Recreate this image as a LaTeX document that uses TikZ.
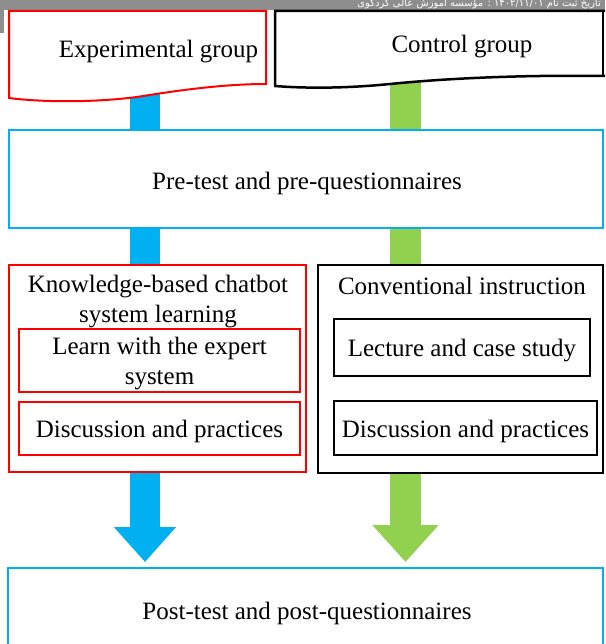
\documentclass[tikz,border=0pt]{standalone}
\usepackage{fontspec}
\setmainfont{Liberation Serif}
\newfontfamily\arabicfont[Script=Arabic]{DejaVu Sans}
\TeXXeTstate=1
\usetikzlibrary{arrows.meta,backgrounds}
\definecolor{flowblue}{HTML}{00B0F0}
\definecolor{flowgreen}{HTML}{92D050}
\definecolor{bandgray}{HTML}{8E8E8E}
\begin{document}
\begin{tikzpicture}[x=1pt,y=-1pt,
  txt/.style={font=\fontsize{25}{30}\selectfont, align=center, inner sep=0pt},
  redframe/.style={draw=red, line width=2pt, fill=white},
  blackframe/.style={draw=black, line width=2.5pt, fill=white},
  cyanframe/.style={draw=flowblue, line width=2pt, fill=white},
  bluebar/.style={flowblue, line width=30pt},
  greenbar/.style={flowgreen, line width=31pt},
]
\useasboundingbox (0,0) rectangle (605,644);
\clip (0,0) rectangle (605,644);

% header band
\fill[bandgray] (0,0) rectangle (605,10);
\fill[bandgray] (0,0) rectangle (4,33);
\node[font=\arabicfont\fontsize{10}{10}\selectfont, text=white, inner sep=0pt, anchor=base east] (hdr) at (601,7)
  {\beginR تاریخ ثبت نام \beginL ۱۴۰۲/۱۱/۰۱\endL{} : مؤسسه آموزش عالی کردکوی\endR};

% group headers with wavy bottoms
\draw[red, line width=2pt, fill=white] (9,11) -- (266,11) -- (266,84)
  .. controls (225,84) and (180,90) .. (137,97)
  .. controls (90,103) and (40,102) .. (9,98) -- cycle;
\node[txt] (exp) at (158.5,52) {Experimental group};
\draw[black, line width=2.5pt, fill=white] (275,11) -- (610,11) -- (610,76) -- (603,76)
  .. controls (540,75) and (460,77) .. (390,84)
  .. controls (340,89) and (300,88) .. (275,86) -- cycle;
\draw[black, line width=2.5pt] (603,11) -- (603,76);
\node[txt] (ctl) at (462,47) {Control group};

% pre-test
\node[cyanframe, minimum width=594pt, minimum height=98pt] (pre) at (306,179) {};
\node[txt] (pretxt) at (307,183) {Pre-test and pre-questionnaires};

% instruction blocks
\node[redframe, minimum width=297pt, minimum height=207pt] (kb) at (157.5,368.5) {};
\node[txt] (kbtitle) at (158,302) {Knowledge-based chatbot\\system learning};
\node[redframe, minimum width=281pt, minimum height=63pt] (learn) at (159.5,360.5) {};
\node[txt] (learntxt) at ([yshift=-3pt]learn.center) {Learn with the expert\\system};
\node[redframe, minimum width=281pt, minimum height=53pt] (disc1) at (159.5,428.5) {};
\node[txt] (disc1txt) at ([yshift=-3pt]disc1.center) {Discussion and practices};

\node[blackframe, minimum width=285pt, minimum height=208pt] (conv) at (460.5,369) {};
\node[txt] (convtitle) at (462,286) {Conventional instruction};
\node[blackframe, minimum width=256pt, minimum height=57pt] (lect) at (462,347.5) {};
\node[txt] (lecttxt) at ([yshift=-3pt]lect.center) {Lecture and case study};
\node[blackframe, minimum width=263pt, minimum height=54pt] (disc2) at (465.5,428) {};
\node[txt] (disc2txt) at ([yshift=-3pt]disc2.center) {Discussion and practices};

% post-test
\node[cyanframe, minimum width=595pt, minimum height=84pt] (post) at (305.5,610) {};
\node[txt] (posttxt) at (307,613) {Post-test and post-questionnaires};

% flow bars and arrows
\coordinate (bx) at (145,0);
\coordinate (gx) at (405.5,0);
\begin{scope}[on background layer]
  \draw[bluebar] (exp.south -| bx) -- (kb.south -| bx);
  \draw[greenbar] (ctl.south -| gx) -- (conv.south -| gx);
  \draw[bluebar, -{Triangle[width=60pt,length=35pt]}, shorten >=5pt] (kb.south -| bx) -- (post.north -| bx);
  \draw[greenbar, -{Triangle[width=64pt,length=37pt]}, shorten >=5pt] (conv.south -| gx) -- (post.north -| gx);
\end{scope}
\end{tikzpicture}
\end{document}
